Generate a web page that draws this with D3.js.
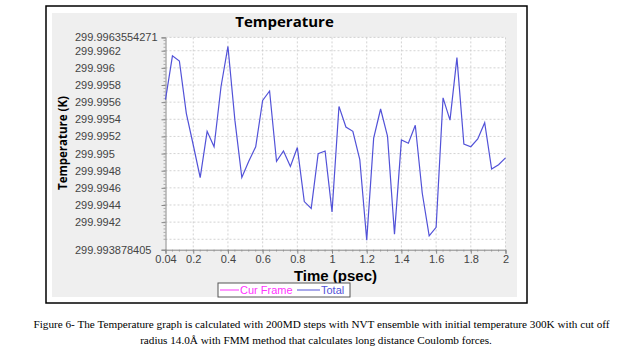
<!DOCTYPE html>
<html>
<head>
<meta charset="utf-8">
<script src="https://cdn.jsdelivr.net/npm/d3@7"></script>
<style>
	body{margin:0;background:#fff;}
	svg{display:block;}
	.tick text{font-family:"Liberation Sans",Arial,sans-serif;font-size:11px;fill:#444;}
</style>
</head>
<body>
<div id="chart"></div>
<script>

//data
const times = [0.04,0.08,0.12,0.16,0.2,0.24,0.28,0.32,0.36,0.4,0.44,0.48,0.52,0.56,0.6,0.64,0.68,0.72,0.76,0.8,
	0.84,0.88,0.92,0.96,1.0,1.04,1.08,1.12,1.16,1.2,1.24,1.28,1.32,1.36,1.4,1.44,1.48,1.52,1.56,1.6,
	1.64,1.68,1.72,1.76,1.8,1.84,1.88,1.92,1.96,2.0];
const total = [299.99563,299.99614,299.99608,299.99547,299.99510,299.99472,299.99526,299.99508,299.99578,299.99625,
	299.99539,299.99472,299.99491,299.99508,299.99562,299.99573,299.99491,299.99503,299.99485,299.99507,
	299.99444,299.99436,299.99500,299.99503,299.99432,299.99555,299.99531,299.99526,299.99493,299.99399,
	299.99518,299.99552,299.99520,299.99406,299.99516,299.99512,299.99533,299.99454,299.99404,299.99414,
	299.99565,299.99539,299.99612,299.99511,299.99508,299.99517,299.99536,299.99482,299.99487,299.99495];

const yMin = 299.993878405, yMax = 299.9963554271;
const yTickValues = [299.993878405,299.9942,299.9944,299.9946,299.9948,299.995,299.9952,299.9954,299.9956,299.9958,299.996,299.9962,299.9963554271];
const yTickLabels = ["299.993878405","299.9942","299.9944","299.9946","299.9948","299.995","299.9952","299.9954","299.9956","299.9958","299.996","299.9962","299.9963554271"];
const yGrid = [299.994,299.9942,299.9944,299.9946,299.9948,299.995,299.9952,299.9954,299.9956,299.9958,299.996,299.9962,299.9963554271];
const xTickValues = [0.04,0.2,0.4,0.6,0.8,1,1.2,1.4,1.6,1.8,2];
const xTickLabels = ["0.04","0.2","0.4","0.6","0.8","1","1.2","1.4","1.6","1.8","2"];
const legendItems = ["Cur Frame","Total"];
const legendColors = ["#ff33ff","#5252d8"];

const captionLines = [
	"Figure 6- The Temperature graph is calculated with 200MD steps with NVT ensemble with initial temperature 300K with cut off",
	"radius 14.0\u00C5 with FMM method that calculates long distance Coulomb forces."
];

const width = 630, height = 355;
const plot = {left:165.5, right:505.5, top:37.4, bottom:249.7};
const sans = "Liberation Sans, Arial, sans-serif";

let svg = d3.select("#chart").append("svg")
	.attr("width", width)
	.attr("height", height);

//outer frame and grey panel
svg.append("rect")
	.attr("x", 46).attr("y", 6)
	.attr("width", 481).attr("height", 297)
	.attr("fill", "#fff")
	.attr("stroke", "#000")
	.attr("stroke-width", 1.5);

svg.append("rect")
	.attr("x", 52).attr("y", 13)
	.attr("width", 465).attr("height", 284)
	.attr("fill", "#efefef");

let x = d3.scaleLinear().domain([0.04, 2]).range([plot.left, plot.right]);
let y = d3.scaleLinear().domain([yMin, yMax]).range([plot.bottom, plot.top]);

//plot background
svg.append("rect")
	.attr("x", plot.left).attr("y", plot.top)
	.attr("width", plot.right - plot.left).attr("height", plot.bottom - plot.top)
	.attr("fill", "#fff");

//grid
let grid = svg.append("g").attr("stroke", "#c8c8c8").attr("stroke-dasharray", "2,2").attr("stroke-width", 0.8);
grid.selectAll(".gy").data(yGrid).enter().append("line")
	.attr("x1", plot.left).attr("x2", plot.right)
	.attr("y1", d => y(d)).attr("y2", d => y(d));
grid.selectAll(".gx").data(xTickValues.slice(1)).enter().append("line")
	.attr("y1", plot.top).attr("y2", plot.bottom)
	.attr("x1", d => x(d)).attr("x2", d => x(d));

//minor ticks
let minorX = d3.range(0.04, 2.001, 0.04);
svg.append("g").selectAll("line").data(minorX).enter().append("line")
	.attr("x1", d => x(d)).attr("x2", d => x(d))
	.attr("y1", plot.bottom).attr("y2", plot.bottom + 2)
	.attr("stroke", "#999").attr("stroke-width", 0.8);
let minorY = d3.range(299.994, yMax, 0.00004);
svg.append("g").selectAll("line").data(minorY).enter().append("line")
	.attr("x1", plot.left - 2).attr("x2", plot.left)
	.attr("y1", d => y(d)).attr("y2", d => y(d))
	.attr("stroke", "#999").attr("stroke-width", 0.8);

//axes
let yAxis = svg.append("g")
	.attr("transform", "translate(" + plot.left + ",0)")
	.call(d3.axisLeft(y).tickValues(yTickValues).tickFormat((d, i) => yTickLabels[i]).tickSize(4).tickPadding(3));
yAxis.selectAll(".tick text").attr("text-anchor", "start").attr("x", 75 - plot.left);
yAxis.selectAll("line, path").attr("stroke", "#888");

let xAxis = svg.append("g")
	.attr("transform", "translate(0," + plot.bottom + ")")
	.call(d3.axisBottom(x).tickValues(xTickValues).tickFormat((d, i) => xTickLabels[i]).tickSize(4).tickPadding(2));
xAxis.selectAll("line, path").attr("stroke", "#888");

//line
let line = d3.line()
	.x((d, i) => x(times[i]))
	.y(d => y(d));

svg.append("path")
	.datum(total)
	.attr("d", line)
	.attr("fill", "none")
	.attr("stroke", legendColors[1])
	.attr("stroke-width", 1.2);

//titles
svg.append("text")
	.attr("x", 284.5).attr("y", 27)
	.attr("text-anchor", "middle")
	.attr("font-family", "Open Sans, sans-serif")
	.attr("font-weight", "bold")
	.attr("font-size", "15px")
	.text("Temperature");

svg.append("text")
	.attr("x", (plot.left + plot.right) / 2).attr("y", 280.5)
	.attr("text-anchor", "middle")
	.attr("font-family", sans)
	.attr("font-weight", "bold")
	.attr("font-size", "15px")
	.text("Time (psec)");

svg.append("text")
	.attr("transform", "translate(67,143) rotate(-90)")
	.attr("text-anchor", "middle")
	.attr("font-family", "Open Sans, sans-serif")
	.attr("font-weight", "bold")
	.attr("font-size", "11.5px")
	.text("Temperature (K)");

//legend
let legend = svg.append("g");
legend.append("rect")
	.attr("x", 218).attr("y", 283)
	.attr("width", 132).attr("height", 14)
	.attr("fill", "#fff")
	.attr("stroke", "#555");

let lx = [220, 297], ll = [19, 23];
legendItems.forEach((name, i) => {
	legend.append("line")
		.attr("x1", lx[i]).attr("x2", lx[i] + ll[i])
		.attr("y1", 290).attr("y2", 290)
		.attr("stroke", legendColors[i]).attr("stroke-width", 1);
	legend.append("text")
		.attr("x", lx[i] + ll[i] + 1).attr("y", 294.2)
		.attr("font-family", sans)
		.attr("font-size", "11px")
		.attr("fill", legendColors[i])
		.text(name);
});

//caption
let capX = [321.5, 316], capY = [328, 344];
captionLines.forEach((t, i) => {
	svg.append("text")
		.attr("x", capX[i]).attr("y", capY[i])
		.attr("text-anchor", "middle")
		.attr("font-family", "Liberation Serif, Times New Roman, serif")
		.attr("font-size", "11.2px")
		.attr("fill", "#000")
		.text(t);
});

</script>
</body>
</html>
